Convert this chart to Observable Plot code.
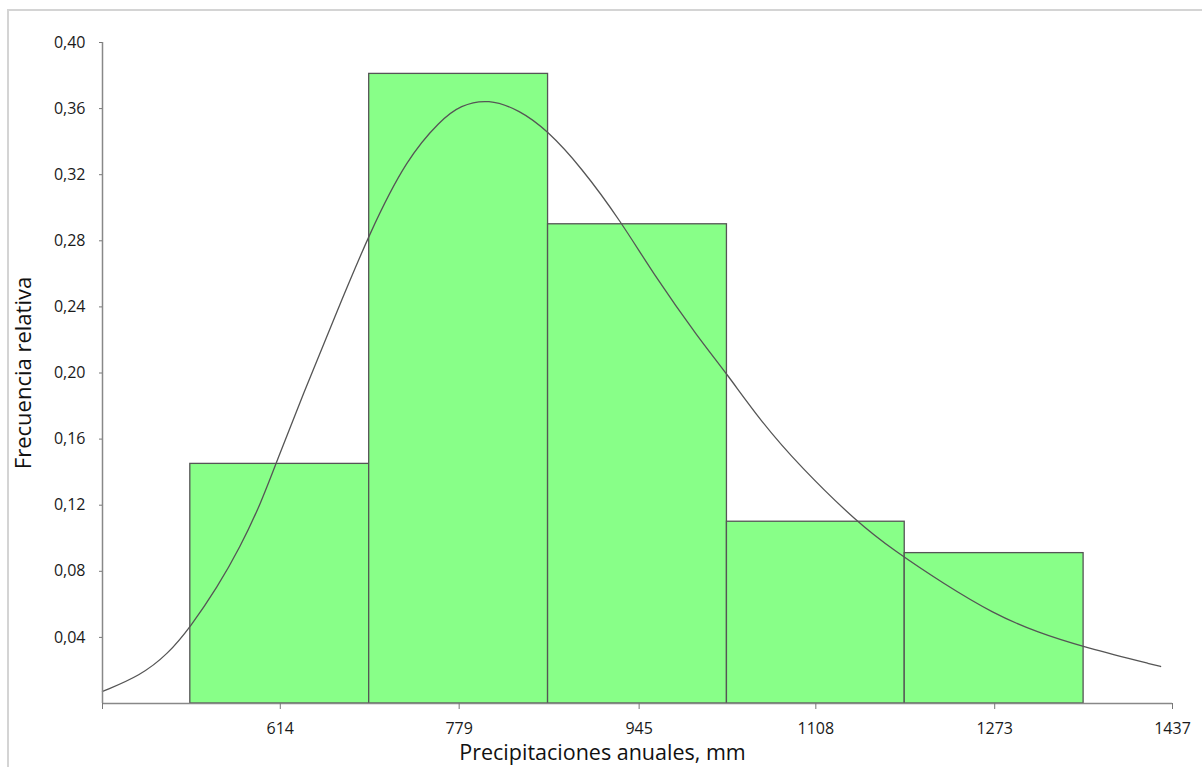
<!DOCTYPE html>
<html>
<head>
<meta charset="utf-8">
<script src="https://cdn.jsdelivr.net/npm/d3@7"></script>
<script src="https://cdn.jsdelivr.net/npm/@observablehq/plot@0.6"></script>
<style>
  html, body { margin: 0; padding: 0; background: #fff; }
  #wrap { position: relative; width: 1202px; height: 767px; overflow: hidden; }
  #frame { position: absolute; left: 7px; top: 9px; width: 1300px; height: 900px;
           border-top: 2px solid #d4d4d4; border-left: 2px solid #d4d4d4; box-sizing: border-box; }
  #chart { position: absolute; left: 0; top: 0; }
</style>
</head>
<body>
<div id="wrap"><div id="frame"></div><div id="chart"></div></div>
<script>
// Histogram class edges (mm) and relative frequencies
const binEdges = [531, 696, 861, 1026, 1190, 1355];
const relFreq = [0.145, 0.381, 0.290, 0.110, 0.091];
// x tick labels (class marks) and y ticks
const xTicks = [450, 614, 779, 945, 1108, 1273, 1437];
const yTicks = [0.04, 0.08, 0.12, 0.16, 0.20, 0.24, 0.28, 0.32, 0.36, 0.40];
// fitted density curve
const curveX = [450, 485, 510, 531, 556, 577, 596, 611, 635, 663, 697, 731, 762, 780, 806, 835, 860, 891, 928, 960, 1000, 1026, 1057, 1094, 1146, 1180, 1226, 1272, 1312, 1355, 1426];
const curveY = [0.0073, 0.0169, 0.0297, 0.0462, 0.0704, 0.0946, 0.121, 0.147, 0.187, 0.232, 0.286, 0.330, 0.353, 0.362, 0.366, 0.359, 0.347, 0.325, 0.292, 0.258, 0.221, 0.1995, 0.171, 0.143, 0.1097, 0.0926, 0.0724, 0.0543, 0.0431, 0.0341, 0.0224];
const xLabel = "Precipitaciones anuales, mm";
const yLabel = "Frecuencia relativa";

const bars = relFreq.map((v, i) => ({x1: binEdges[i], x2: binEdges[i + 1], y: v}));
const curve = curveX.map((x, i) => ({x, y: curveY[i]}));

const font = "'Open Sans', 'Noto Sans', sans-serif";
const chart = Plot.plot({
  width: 1202,
  height: 767,
  marginLeft: 102,
  marginRight: 30,
  marginTop: 42,
  marginBottom: 64,
  style: {fontFamily: font, fontSize: "16px", color: "#1a1a1a", background: "transparent"},
  x: {domain: [450, 1437], type: "linear"},
  y: {domain: [0, 0.4]},
  marks: [
    Plot.rectY(bars, {x1: "x1", x2: "x2", y: "y", fill: "#88ff88", stroke: "#555", strokeWidth: 1.3}),
    Plot.line(curve, {x: "x", y: "y", stroke: "#555", strokeWidth: 1.3, curve: "basis"}),
    Plot.ruleX([450], {stroke: "#888", strokeWidth: 1.5}),
    Plot.ruleY([0], {stroke: "#888", strokeWidth: 1.5}),
    Plot.axisX({ticks: xTicks, tickFormat: d => d === 450 ? "" : String(d), tickSize: 6, tickPadding: 13,
                stroke: "#777", label: null, fontSize: 16}),
    Plot.axisY({ticks: yTicks, tickFormat: d => d.toFixed(2).replace(".", ","), tickSize: 3, tickPadding: 14,
                stroke: "#777", label: null, fontSize: 16}),
    Plot.text([xLabel], {frameAnchor: "bottom", dx: -35, dy: 50, fontSize: 21.5, fill: "#111", lineAnchor: "middle", textAnchor: "middle"}),
    Plot.text([yLabel], {frameAnchor: "left", dx: -79, dy: 0, rotate: -90, fontSize: 22, fill: "#111", lineAnchor: "middle", textAnchor: "middle"})
  ]
});
document.getElementById("chart").appendChild(chart);
</script>
</body>
</html>
